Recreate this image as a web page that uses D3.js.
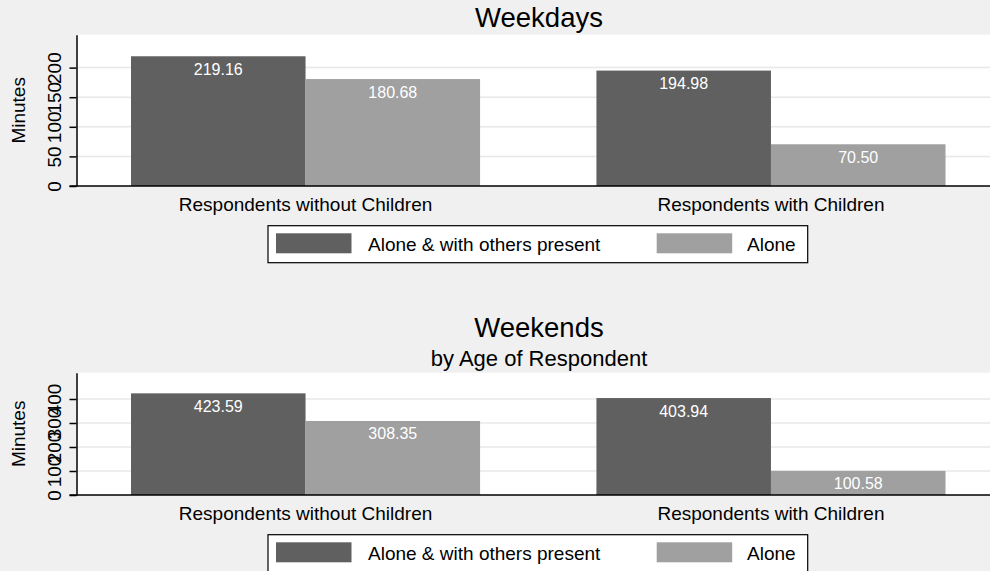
<!DOCTYPE html>
<html>
<head>
<meta charset="utf-8">
<script src="https://cdn.jsdelivr.net/npm/d3@7"></script>
<style>
  body { margin: 0; background: #f0f0f0; }
  svg { display: block; font-family: "Liberation Sans", Arial, sans-serif; }
</style>
</head>
<body>
<div id="chart"></div>
<script>
// data
const categories = ["Respondents without Children", "Respondents with Children"];
const seriesNames = ["Alone & with others present", "Alone"];
const weekdayValues = [[219.16, 180.68], [194.98, 70.50]];
const weekendValues = [[423.59, 308.35], [403.94, 100.58]];
const weekdayTicks = [0, 50, 100, 150, 200];
const weekendTicks = [0, 100, 200, 300, 400];

const colors = ["#606060", "#a0a0a0"];

const W = 990, H = 571;
const svg = d3.select("#chart").append("svg")
  .attr("width", W)
  .attr("height", H);

svg.append("rect").attr("width", W).attr("height", H).attr("fill", "#f0f0f0");

const plotLeft = 76.5, plotRight = 990;

const x0 = d3.scaleBand()
  .domain(categories)
  .range([131, 945.5])
  .paddingInner(0.25)
  .paddingOuter(0);

const x1 = d3.scaleBand()
  .domain(seriesNames)
  .range([0, x0.bandwidth()])
  .padding(0);

function drawPanel(opts) {
  const { values, ticks, yMax, top, bottom } = opts;
  const y = d3.scaleLinear().domain([0, yMax]).range([bottom, top]);

  const g = svg.append("g");

  // plot region
  g.append("rect")
    .attr("x", plotLeft)
    .attr("y", top)
    .attr("width", plotRight - plotLeft)
    .attr("height", bottom - top)
    .attr("fill", "#ffffff");

  // gridlines
  g.selectAll(".grid")
    .data(ticks.filter(t => t > 0))
    .enter()
    .append("line")
    .attr("x1", plotLeft)
    .attr("x2", plotRight)
    .attr("y1", d => y(d))
    .attr("y2", d => y(d))
    .attr("stroke", "#e8e8e8")
    .attr("stroke-width", 1.5);

  // bars
  const groups = g.selectAll(".grp")
    .data(categories)
    .enter()
    .append("g")
    .attr("transform", d => `translate(${x0(d)},0)`);

  groups.selectAll("rect")
    .data((d, i) => seriesNames.map((s, j) => ({ s, j, v: values[i][j] })))
    .enter()
    .append("rect")
    .attr("x", d => x1(d.s))
    .attr("y", d => y(d.v))
    .attr("width", x1.bandwidth())
    .attr("height", d => y(0) - y(d.v))
    .attr("fill", d => colors[d.j]);

  groups.selectAll("text")
    .data((d, i) => seriesNames.map((s, j) => ({ s, j, v: values[i][j] })))
    .enter()
    .append("text")
    .attr("x", d => x1(d.s) + x1.bandwidth() / 2)
    .attr("y", d => y(d.v) + 18.5)
    .attr("text-anchor", "middle")
    .attr("fill", "#ffffff")
    .style("font-size", "16px")
    .text(d => d.v.toFixed(2));

  // y axis
  const axis = g.append("g")
    .attr("transform", `translate(${plotLeft},0)`)
    .call(d3.axisLeft(y).tickValues(ticks).tickSize(7).tickSizeOuter(0));

  axis.select(".domain").attr("stroke", "#000").attr("stroke-width", 1.5);
  axis.selectAll(".tick line").attr("stroke", "#000").attr("stroke-width", 1.5);
  axis.selectAll(".tick text")
    .attr("transform", "rotate(-90)")
    .attr("x", 0)
    .attr("y", -15.5)
    .attr("dy", 0)
    .attr("text-anchor", "middle")
    .attr("fill", "#000")
    .style("font-size", "19px")
    .style("font-family", "'Liberation Sans', Arial, sans-serif");

  // x axis line
  g.append("line")
    .attr("x1", plotLeft - 7)
    .attr("x2", plotRight)
    .attr("y1", bottom)
    .attr("y2", bottom)
    .attr("stroke", "#000")
    .attr("stroke-width", 1.5);

  // y title
  g.append("text")
    .attr("transform", `translate(25,${(top + bottom) / 2}) rotate(-90)`)
    .attr("text-anchor", "middle")
    .style("font-size", "19px")
    .text("Minutes");

  // category labels
  g.selectAll(".cat")
    .data(categories)
    .enter()
    .append("text")
    .attr("x", d => x0(d) + x0.bandwidth() / 2)
    .attr("y", bottom + 25)
    .attr("text-anchor", "middle")
    .style("font-size", "19px")
    .text(d => d);

  // legend
  const lg = g.append("g").attr("transform", `translate(268,${bottom + 39.7})`);
  lg.append("rect")
    .attr("x", 0).attr("y", 0)
    .attr("width", 539.7).attr("height", 37)
    .attr("fill", "#ffffff")
    .attr("stroke", "#000")
    .attr("stroke-width", 1.2);

  const legendItems = [
    { name: seriesNames[0], color: colors[0], sx: 8, tx: 100 },
    { name: seriesNames[1], color: colors[1], sx: 388.7, tx: 479 }
  ];
  legendItems.forEach(it => {
    lg.append("rect")
      .attr("x", it.sx).attr("y", 7.6)
      .attr("width", 75.5).attr("height", 20)
      .attr("fill", it.color);
    lg.append("text")
      .attr("x", it.tx).attr("y", 25.8)
      .style("font-size", "19px")
      .text(it.name);
  });
}

drawPanel({ values: weekdayValues, ticks: weekdayTicks, yMax: 255.6, top: 34.7, bottom: 186 });
drawPanel({ values: weekendValues, ticks: weekendTicks, yMax: 509.6, top: 372.7, bottom: 495 });

// titles
const cx = 539;
svg.append("text")
  .attr("x", cx).attr("y", 27)
  .attr("text-anchor", "middle")
  .style("font-size", "27.5px")
  .text("Weekdays");

svg.append("text")
  .attr("x", cx).attr("y", 337)
  .attr("text-anchor", "middle")
  .style("font-size", "27.5px")
  .text("Weekends");

svg.append("text")
  .attr("x", cx).attr("y", 366)
  .attr("text-anchor", "middle")
  .style("font-size", "22px")
  .text("by Age of Respondent");
</script>
</body>
</html>
